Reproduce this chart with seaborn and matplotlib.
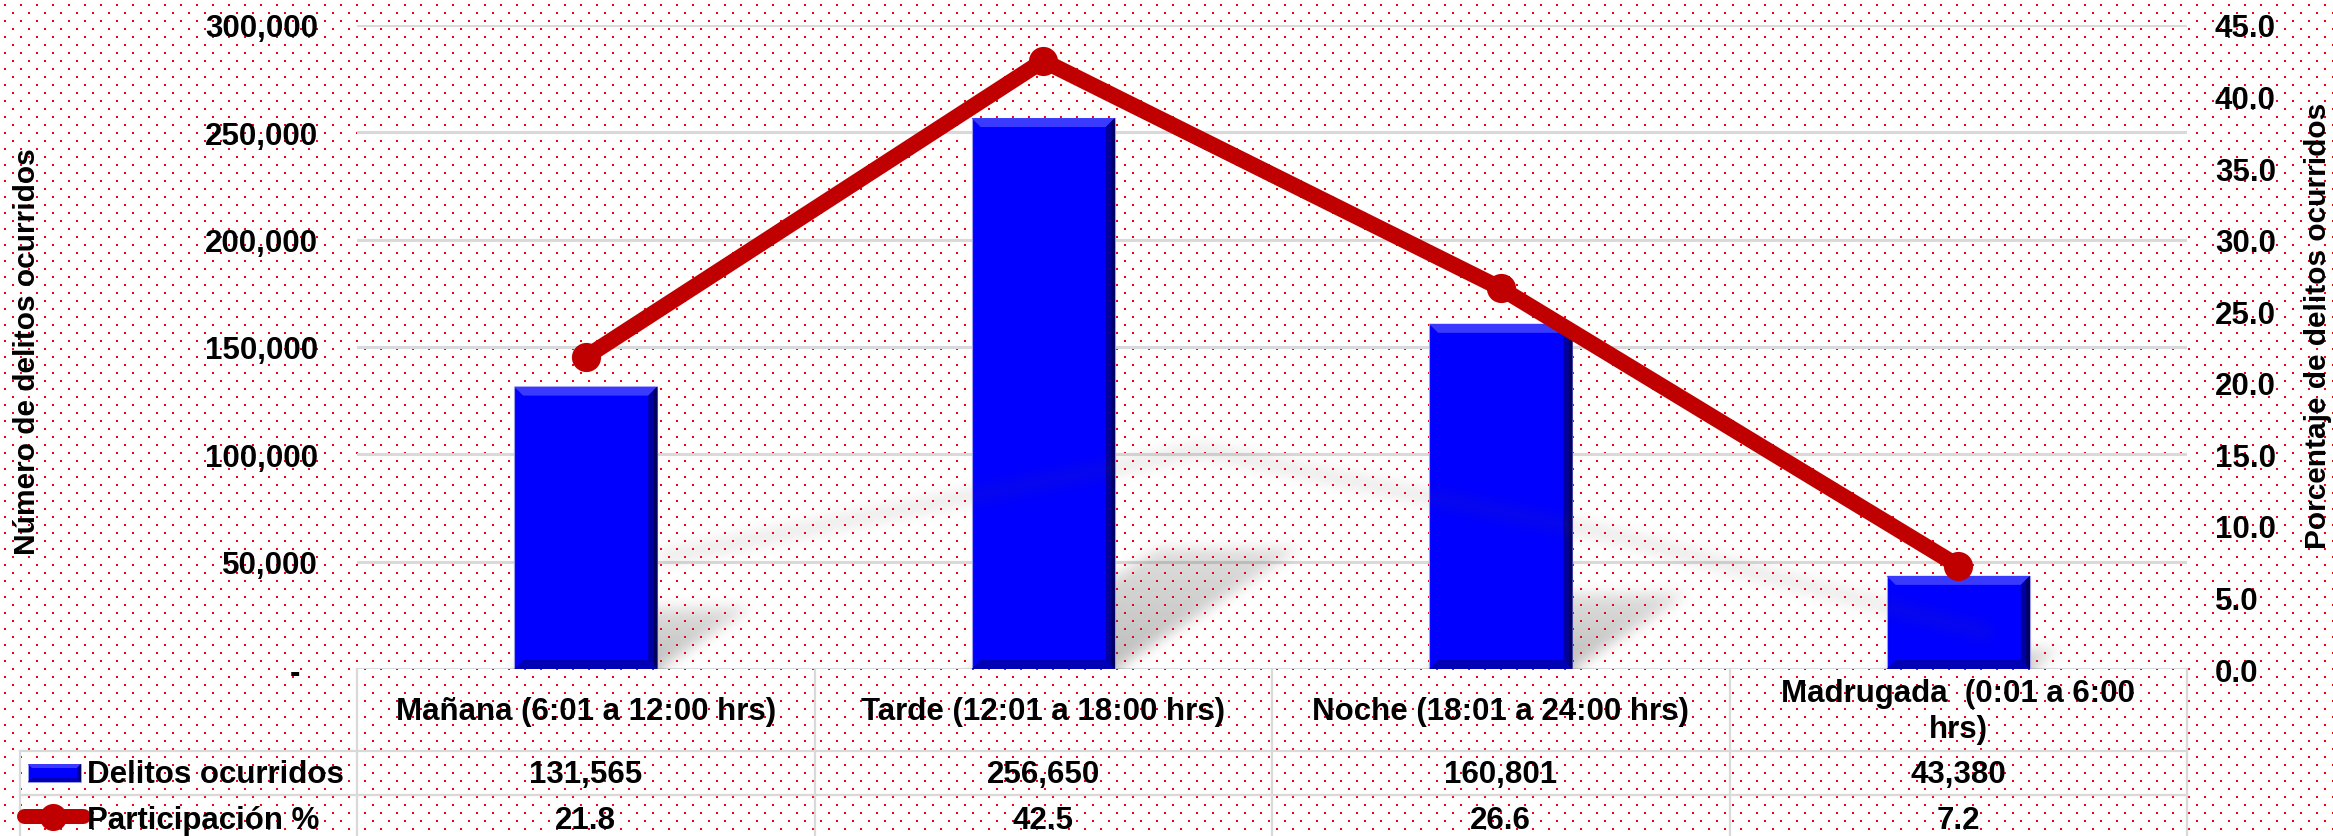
import numpy as np
import pandas as pd
import seaborn as sns
import matplotlib.pyplot as plt
from matplotlib.patches import Polygon, Rectangle
from matplotlib.lines import Line2D

# datos del grafico
periodos = ["Mañana (6:01 a 12:00 hrs)", "Tarde (12:01 a 18:00 hrs)",
            "Noche (18:01 a 24:00 hrs)", "Madrugada  (0:01 a 6:00\nhrs)"]
delitos = [131565, 256650, 160801, 43380]
participacion = [21.8, 42.5, 26.6, 7.2]
ticks_delitos = [0, 50000, 100000, 150000, 200000, 250000, 300000]
ticks_pct = [0, 5, 10, 15, 20, 25, 30, 35, 40, 45]
serie_barras = "Delitos ocurridos"
serie_linea = "Participación %"
titulo_izq = "Número de delitos ocurridos"
titulo_der = "Porcentaje de delitos ocurridos"

df = pd.DataFrame({"periodo": periodos, "delitos": delitos, "pct": participacion})

W, H = 2333, 837
AZUL = "#0000ff"
ROJO = "#c00000"
GRIS = "#d9d9d9"
FS = 22.5

plt.rcParams["font.family"] = ["Liberation Sans", "DejaVu Sans"]
plt.rcParams["font.weight"] = "bold"

fig = plt.figure(figsize=(W / 100, H / 100), dpi=100)
fig.patch.set_facecolor("white")

# fondo blanco con puntos rojos
yy, xx = np.mgrid[0:H, 0:W]
fila = (yy + 3) // 8
puntos = (((yy + 3) % 8) < 2) & (((xx + 8 * (fila % 2) + 4) % 16) < 2)
fondo = np.zeros((H, W, 4))
fondo[puntos] = [1, 0, 0, 1]
fig.figimage(fondo, 0, 0, origin="upper", zorder=-1)

# area de grafico (pixeles)
x0p, x1p, y0p, y1p = 357, 2187, 670, 26
ax = fig.add_axes([x0p / W, 1 - y0p / H, (x1p - x0p) / W, (y0p - y1p) / H])
ax.set_facecolor("none")

sns.barplot(data=df, x="periodo", y="delitos", color=AZUL, saturation=1, width=0.313,
            edgecolor="#a0a0e8", linewidth=0.8, ax=ax, zorder=3)
barras = list(ax.patches)

ax.set_xlim(-0.5, 3.5)
ax.set_ylim(0, 300000)
ax.set_yticks(ticks_delitos)
ax.set_yticklabels(["-  " if t == 0 else f"{t:,}" for t in ticks_delitos])
ax.tick_params(axis="both", length=0)
ax.tick_params(axis="y", pad=28, labelsize=FS)
ax.set_xlabel("")
ax.set_ylabel("")
ax.grid(axis="y", color=GRIS, linewidth=2.2)
ax.grid(axis="x", visible=False)
ax.set_axisbelow(True)
for s in ax.spines.values():
    s.set_visible(False)

ax2 = ax.twinx()
sns.pointplot(data=df, x="periodo", y="pct", color=ROJO, markers="o", errorbar=None,
              linewidth=11.5, markersize=21, markeredgewidth=0, ax=ax2, zorder=6)
ax2.set_xlim(-0.5, 3.5)
ax2.set_ylim(0, 45)
ax2.set_yticks(ticks_pct)
ax2.set_yticklabels([f"{t:.1f}" for t in ticks_pct])
ax2.tick_params(axis="both", length=0)
ax2.tick_params(axis="y", pad=20, labelsize=FS)
ax2.set_xlabel("")
ax2.set_ylabel("")
ax2.grid(False)
for s in ax2.spines.values():
    s.set_visible(False)
ax.set_xticks(range(len(periodos)))
ax.set_xticklabels([])


def suavizar(a, r, pasadas=3):
    for _ in range(pasadas):
        for eje in (0, 1):
            pad = [(r + 1, r) if i == eje else (0, 0) for i in range(2)]
            c = np.cumsum(np.pad(a, pad, mode="edge"), axis=eje)
            if eje == 0:
                a = (c[2 * r + 1:] - c[:-2 * r - 1]) / (2 * r + 1)
            else:
                a = (c[:, 2 * r + 1:] - c[:, :-2 * r - 1]) / (2 * r + 1)
    return a


# escalas en pixeles
tr = ax.transData
px_x = tr.transform((1, 0))[0] - tr.transform((0, 0))[0]
px_y = tr.transform((0, 1))[1] - tr.transform((0, 0))[1]
px_y2 = ax2.transData.transform((0, 1))[1] - ax2.transData.transform((0, 0))[1]
aw, ah = x1p - x0p, y0p - y1p
GX, GY = np.meshgrid(np.arange(aw) + 0.5, np.arange(ah) + 0.5)

# sombra de las barras
sombra = np.zeros((ah, aw))
for p in barras:
    bx = (p.get_x() + 0.5) * px_x
    bw = p.get_width() * px_x
    bh = p.get_height() * px_y
    v = GY / (0.22 * bh)
    u = (GX - bx - v * 0.34 * bh) / bw
    dentro = (v >= 0) & (v <= 1) & (u >= 0) & (u <= 1)
    sombra = np.maximum(sombra, dentro * (0.38 - 0.2 * v))
sombra = suavizar(sombra, 6)
img = np.zeros((ah, aw, 4))
img[..., :3] = 0.3
img[..., 3] = np.clip(sombra, 0, 1)
ax.imshow(img, extent=(-0.5, 3.5, 0, 300000), origin="lower", aspect="auto",
          zorder=2, interpolation="bilinear")

# sombra de la linea
pts = [((i + 0.5) * px_x + 0.26 * v * px_y2, 0.36 * v * px_y2) for i, v in enumerate(participacion)]
dist = np.full((ah, aw), 1e9)
for (ax_, ay_), (bx_, by_) in zip(pts[:-1], pts[1:]):
    dx, dy = bx_ - ax_, by_ - ay_
    t = np.clip(((GX - ax_) * dx + (GY - ay_) * dy) / (dx * dx + dy * dy), 0, 1)
    dist = np.minimum(dist, np.hypot(GX - ax_ - t * dx, GY - ay_ - t * dy))
sl = suavizar((dist < 8) * 0.11, 6)
img2 = np.zeros((ah, aw, 4))
img2[..., :3] = 0.3
img2[..., 3] = np.clip(sl, 0, 1)
ax2.imshow(img2, extent=(-0.5, 3.5, 0, 45), origin="lower", aspect="auto",
           zorder=1, interpolation="bilinear")
ax2.set_xlim(-0.5, 3.5)
ax2.set_ylim(0, 45)
ax.set_xlim(-0.5, 3.5)
ax.set_ylim(0, 300000)


def bisel(axis, x0, y0, x1, y1, bx, by, z):
    caras = [
        ([(x0, y1), (x1, y1), (x1 - bx, y1 - by), (x0 + bx, y1 - by)], "#3a3aff"),
        ([(x0, y0), (x1, y0), (x1 - bx, y0 + by), (x0 + bx, y0 + by)], "#0000b4"),
        ([(x1, y0), (x1, y1), (x1 - bx, y1 - by), (x1 - bx, y0 + by)], "#0000a0"),
        ([(x1, y0), (x1, y1), (x1 - bx * 0.4, y1 - by * 0.4), (x1 - bx * 0.4, y0 + by * 0.4)], "#000060"),
    ]
    for verts, c in caras:
        axis.add_patch(Polygon(verts, closed=True, fc=c, ec="none", zorder=z))


# bisel de las barras
bx_d, by_d = 9 / px_x, 9 / px_y
for p in barras:
    x0 = p.get_x()
    bisel(ax, x0, 0, x0 + p.get_width(), p.get_height(), bx_d, by_d, 4)

# tabla de datos (coordenadas en pixeles)
tab = fig.add_axes([0, 0, 1, 1], zorder=-0.5)
tab.set_xlim(0, W)
tab.set_ylim(H, 0)
tab.axis("off")

bordes = [tr.transform((c, 0))[0] for c in np.arange(-0.5, len(periodos), 1.0)]
centros = [tr.transform((i, 0))[0] for i in range(len(periodos))]
kl = dict(color=GRIS, lw=1.6)
for xb in bordes:
    tab.add_line(Line2D([xb, xb], [y0p, H], **kl))
tab.add_line(Line2D([20, bordes[-1]], [752, 752], **kl))
tab.add_line(Line2D([20, bordes[-1]], [796, 796], **kl))
tab.add_line(Line2D([20, 20], [752, H], **kl))

for i, xc in enumerate(centros):
    tab.text(xc, 712, periodos[i], ha="center", va="center", fontsize=FS,
             multialignment="center", linespacing=1.25)
    tab.text(xc, 783, f"{delitos[i]:,}", ha="center", va="baseline", fontsize=FS)
    tab.text(xc, 829, f"{participacion[i]:.1f}", ha="center", va="baseline", fontsize=FS)

# leyenda dentro de la tabla
tab.add_patch(Rectangle((28, 765), 53, 18, fc=AZUL, ec="#a0a0e8", lw=0.6))
bisel(tab, 28, 783, 81, 765, 4, -4, 3)
tab.add_line(Line2D([24, 83], [817, 817], color=ROJO, lw=10.8, solid_capstyle="round"))
tab.add_line(Line2D([53], [818], marker="o", ms=19.5, mew=0, color=ROJO))
tab.text(87, 783, serie_barras, ha="left", va="baseline", fontsize=FS)
tab.text(87, 829, serie_linea, ha="left", va="baseline", fontsize=FS)

# titulos de ejes
tab.text(27, 352, titulo_izq, rotation=90, ha="center", va="center", fontsize=21.5)
tab.text(2318, 326, titulo_der, rotation=90, ha="center", va="center", fontsize=21.5)

fig.savefig("out.png", dpi=100)
